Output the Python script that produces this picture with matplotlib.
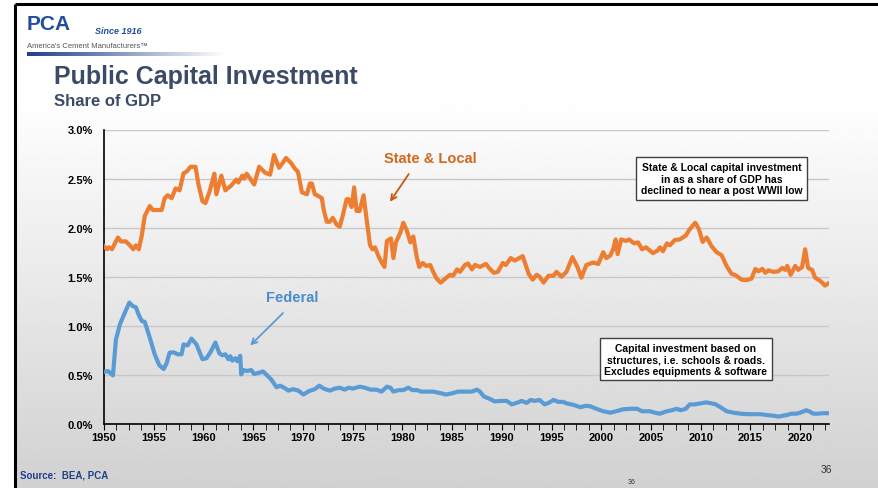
import numpy as np
import matplotlib
matplotlib.use("Agg")
import matplotlib.pyplot as plt
from matplotlib.patches import Rectangle
from matplotlib.ticker import MultipleLocator, FuncFormatter

plt.rcParams['font.family'] = ['Liberation Sans', 'DejaVu Sans']

# state & local capital investment, share of GDP (%)
sl_years = [1950.0, 1950.3, 1950.5, 1950.8, 1951.4, 1951.7, 1952.2, 1952.6, 1952.95, 1953.2,
            1953.5, 1953.8, 1954.1, 1954.6, 1954.9, 1955.8, 1956.1, 1956.4, 1956.8, 1957.2,
            1957.6, 1958.0, 1958.3, 1958.7, 1959.2, 1959.5, 1959.9, 1960.2, 1960.65, 1961.1,
            1961.3, 1961.8, 1962.2, 1962.8, 1963.3, 1963.5, 1963.9, 1964.1, 1964.35, 1965.1,
            1965.6, 1966.2, 1966.7, 1967.1, 1967.6, 1967.9, 1968.3, 1968.8, 1969.2, 1969.5,
            1969.9, 1970.4, 1970.7, 1970.9, 1971.2, 1971.6, 1971.9, 1972.1, 1972.4, 1972.7,
            1973.0, 1973.4, 1973.7, 1974.0, 1974.4, 1974.6, 1974.9, 1975.15, 1975.4, 1975.7,
            1976.1, 1976.4, 1976.75, 1977.0, 1977.25, 1977.6, 1977.9, 1978.2, 1978.45, 1978.85,
            1979.1, 1979.35, 1979.8, 1980.1, 1980.45, 1980.8, 1981.1, 1981.45, 1981.7, 1982.05,
            1982.4, 1982.8, 1983.1, 1983.45, 1983.85, 1984.3, 1984.8, 1985.1, 1985.5, 1985.8,
            1986.3, 1986.6, 1987.0, 1987.3, 1987.8, 1988.4, 1988.8, 1989.2, 1989.6, 1990.1,
            1990.4, 1990.9, 1991.3, 1992.1, 1992.7, 1993.1, 1993.5, 1993.8, 1994.2, 1994.7,
            1995.2, 1995.5, 1996.0, 1996.5, 1997.1, 1997.6, 1998.0, 1998.5, 1999.2, 1999.7,
            2000.2, 2000.5, 2000.9, 2001.2, 2001.45, 2001.65, 2002.0, 2002.5, 2002.8, 2003.3,
            2003.7, 2004.1, 2004.5, 2005.2, 2005.7, 2005.9, 2006.2, 2006.6, 2006.9, 2007.4,
            2007.9, 2008.5, 2008.9, 2009.45, 2009.8, 2010.2, 2010.6, 2011.1, 2011.6, 2012.1,
            2012.6, 2013.1, 2013.6, 2014.1, 2014.6, 2015.1, 2015.5, 2015.8, 2016.2, 2016.5,
            2016.8, 2017.3, 2017.8, 2018.2, 2018.5, 2018.7, 2019.05, 2019.5, 2019.8, 2020.2,
            2020.5, 2020.8, 2021.2, 2021.5, 2022.0, 2022.5, 2022.8]
sl_vals = [1.81, 1.78, 1.80, 1.78, 1.90, 1.86, 1.86, 1.82, 1.78, 1.82,
           1.78, 1.92, 2.12, 2.22, 2.18, 2.18, 2.30, 2.33, 2.30, 2.40,
           2.38, 2.555, 2.57, 2.62, 2.62, 2.44, 2.27, 2.25, 2.38, 2.55,
           2.34, 2.53, 2.38, 2.43, 2.49, 2.46, 2.53, 2.50, 2.55, 2.44,
           2.62, 2.56, 2.54, 2.74, 2.61, 2.65, 2.71, 2.66, 2.60, 2.57,
           2.36, 2.34, 2.45, 2.45, 2.34, 2.32, 2.30, 2.18, 2.06, 2.06,
           2.10, 2.03, 2.01, 2.12, 2.29, 2.29, 2.21, 2.41, 2.17, 2.17,
           2.33, 2.09, 1.82, 1.78, 1.80, 1.71, 1.65, 1.60, 1.865, 1.89,
           1.69, 1.85, 1.95, 2.05, 1.97, 1.85, 1.91, 1.70, 1.60, 1.64,
           1.61, 1.62, 1.55, 1.48, 1.44, 1.48, 1.52, 1.51, 1.575, 1.55,
           1.62, 1.635, 1.575, 1.62, 1.60, 1.63, 1.58, 1.54, 1.55, 1.64,
           1.62, 1.69, 1.665, 1.71, 1.53, 1.47, 1.52, 1.50, 1.44, 1.51,
           1.51, 1.55, 1.50, 1.55, 1.70, 1.60, 1.49, 1.62, 1.645, 1.63,
           1.75, 1.69, 1.715, 1.78, 1.88, 1.73, 1.88, 1.865, 1.88, 1.84,
           1.85, 1.78, 1.80, 1.74, 1.77, 1.80, 1.76, 1.84, 1.82, 1.875,
           1.88, 1.92, 1.985, 2.05, 1.99, 1.855, 1.90, 1.81, 1.75, 1.72,
           1.61, 1.53, 1.51, 1.47, 1.465, 1.48, 1.58, 1.555, 1.58, 1.54,
           1.565, 1.55, 1.555, 1.59, 1.57, 1.61, 1.52, 1.61, 1.57, 1.60,
           1.78, 1.59, 1.57, 1.49, 1.46, 1.41, 1.43]

# federal capital investment, share of GDP (%)
fed_years = [1950.0, 1950.4, 1950.9, 1951.2, 1951.6, 1952.1, 1952.55, 1952.9, 1953.2, 1953.5,
             1953.8, 1954.1, 1954.6, 1955.1, 1955.55, 1956.0, 1956.3, 1956.6, 1957.0, 1957.4,
             1957.8, 1958.0, 1958.4, 1958.8, 1959.3, 1959.9, 1960.3, 1960.7, 1961.2, 1961.6,
             1961.9, 1962.2, 1962.5, 1962.7, 1962.9, 1963.2, 1963.4, 1963.7, 1963.8, 1964.0,
             1964.4, 1964.8, 1965.1, 1965.5, 1966.0, 1966.3, 1966.8, 1967.35, 1967.7, 1968.1,
             1968.55, 1969.0, 1969.55, 1970.05, 1970.6, 1971.2, 1971.65, 1972.1, 1972.7, 1973.2,
             1973.7, 1974.2, 1974.6, 1975.0, 1975.7, 1976.2, 1976.8, 1977.4, 1977.9, 1978.45,
             1978.8, 1979.1, 1979.6, 1980.1, 1980.6, 1981.0, 1981.5, 1981.9, 1982.4, 1983.1,
             1983.8, 1984.4, 1985.1, 1985.6, 1986.3, 1987.0, 1987.5, 1987.8, 1988.2, 1988.7,
             1989.3, 1989.9, 1990.5, 1991.0, 1991.5, 1992.0, 1992.5, 1992.9, 1993.3, 1993.8,
             1994.3, 1994.7, 1995.2, 1995.7, 1996.2, 1996.5, 1997.0, 1997.5, 1997.9, 1998.4,
             1998.9, 1999.5, 2000.2, 2000.9, 2001.5, 2002.2, 2002.9, 2003.6, 2004.1, 2004.9,
             2005.4, 2005.9, 2006.6, 2007.1, 2007.6, 2008.0, 2008.5, 2008.9, 2009.4, 2010.0,
             2010.55, 2011.1, 2011.5, 2012.0, 2012.6, 2013.3, 2014.0, 2014.7, 2015.3, 2016.0,
             2016.7, 2017.3, 2017.8, 2018.3, 2018.8, 2019.1, 2019.6, 2020.0, 2020.6, 2021.0,
             2021.3, 2021.8, 2022.3, 2022.9]
fed_vals = [0.53, 0.54, 0.495, 0.86, 1.015, 1.135, 1.237, 1.20, 1.19, 1.11,
            1.05, 1.04, 0.88, 0.71, 0.60, 0.56, 0.62, 0.727, 0.73, 0.71,
            0.71, 0.81, 0.80, 0.87, 0.81, 0.66, 0.67, 0.73, 0.83, 0.72,
            0.70, 0.71, 0.66, 0.69, 0.645, 0.67, 0.64, 0.695, 0.505, 0.55,
            0.54, 0.55, 0.51, 0.52, 0.535, 0.505, 0.455, 0.375, 0.39, 0.37,
            0.34, 0.355, 0.34, 0.30, 0.335, 0.355, 0.39, 0.36, 0.34, 0.36,
            0.37, 0.35, 0.37, 0.36, 0.38, 0.37, 0.35, 0.35, 0.33, 0.38,
            0.37, 0.33, 0.345, 0.345, 0.37, 0.345, 0.345, 0.33, 0.33, 0.33,
            0.315, 0.30, 0.315, 0.33, 0.33, 0.33, 0.35, 0.33, 0.28, 0.26,
            0.23, 0.235, 0.235, 0.20, 0.215, 0.235, 0.215, 0.245, 0.235, 0.245,
            0.20, 0.215, 0.245, 0.225, 0.225, 0.21, 0.20, 0.185, 0.17, 0.185,
            0.18, 0.155, 0.13, 0.115, 0.13, 0.15, 0.155, 0.155, 0.13, 0.13,
            0.115, 0.105, 0.13, 0.14, 0.155, 0.14, 0.155, 0.20, 0.20, 0.21,
            0.22, 0.21, 0.20, 0.17, 0.13, 0.115, 0.105, 0.10, 0.10, 0.10,
            0.09, 0.085, 0.075, 0.085, 0.095, 0.105, 0.105, 0.115, 0.14, 0.125,
            0.105, 0.105, 0.11, 0.11]

x_ticks = list(range(1950, 2021, 5))
y_ticks = [0.0, 0.5, 1.0, 1.5, 2.0, 2.5, 3.0]

W, H = 879, 489
fig = plt.figure(figsize=(W / 100, H / 100), dpi=100)


def px(x, y):
    return x / W, 1 - y / H


# slide background: white fading into light gray (pixel coordinates, y down)
bg = fig.add_axes([0, 0, 1, 1], zorder=-10)
grad = np.linspace(0, 1, 256)[:, None]
grad = np.clip((grad - 0.2) / 0.8, 0, 1)
bg.imshow(1 - 0.18 * grad, cmap='gray', vmin=0, vmax=1, aspect='auto', extent=[0, W, H, 0])
bg.add_patch(Rectangle((0, 0), 15, H, color='white'))
bg.plot([15.5, 15.5], [5, H], color='black', lw=2.2, solid_capstyle='butt')
bg.plot([15.5, W], [5, 5], color='black', lw=2.2, solid_capstyle='butt')
# gradient bar under the logo
bar = np.linspace(0, 1, 256)[None, :]
bar_cmap = matplotlib.colors.LinearSegmentedColormap.from_list('b', ['#1f3f8a', '#ffffff'])
bg.imshow(bar, cmap=bar_cmap, aspect='auto', extent=[27, 225, 57, 53], zorder=2)
bg.set_xlim(0, W)
bg.set_ylim(H, 0)
bg.axis('off')

# logo and titles
fig.text(*px(27, 24), 'PCA', fontsize=15, fontweight='bold', color='#1f4e9c', va='center', ha='left')
fig.text(*px(95, 32), 'Since 1916', fontsize=6.5, style='italic', color='#1f4e9c', va='center', fontweight='bold')
fig.text(*px(27, 46), "America's Cement Manufacturers\u2122", fontsize=5.5, color='#555555', va='center')
fig.text(*px(54, 77), 'Public Capital Investment', fontsize=18, fontweight='bold', color='#3b4a66', va='center')
fig.text(*px(54, 101), 'Share of GDP', fontsize=12, fontweight='bold', color='#3b4a66', va='center')
fig.text(*px(20, 476), 'Source:  BEA, PCA', fontsize=7, fontweight='bold', color='#1f3f8a', va='center')
fig.text(*px(632, 483), '36', fontsize=5, color='#333333', va='center', ha='center')
fig.text(*px(826, 470), '36', fontsize=7.5, color='#333333', va='center', ha='center')

# chart
ax = fig.add_axes([104 / W, 1 - 425 / H, 725 / W, 294.5 / H])
ax.set_facecolor('none')
ax.plot(sl_years, sl_vals, color='#ED7D31', lw=3, solid_joinstyle='round', zorder=3)
ax.plot(fed_years, fed_vals, color='#5B9BD5', lw=3, solid_joinstyle='round', zorder=3)
ax.set_xlim(1950, 2022.9)
ax.set_ylim(0, 3.0)
ax.set_yticks(y_ticks)
ax.yaxis.set_major_formatter(FuncFormatter(lambda v, p: f'{v:.1f}%'))
ax.set_xticks(x_ticks)
ax.xaxis.set_minor_locator(MultipleLocator(1.25))
ax.grid(axis='y', color='#c8c8c8', lw=1)
ax.set_axisbelow(True)
for s in ['top', 'right']:
    ax.spines[s].set_visible(False)
ax.spines['left'].set_linewidth(1.2)
ax.spines['bottom'].set_linewidth(1.2)
ax.tick_params(axis='y', length=0, pad=8, labelsize=8)
ax.tick_params(axis='x', which='major', length=4, labelsize=8, pad=2)
ax.tick_params(axis='x', which='minor', length=4)
for lab in ax.get_xticklabels() + ax.get_yticklabels():
    lab.set_fontweight('bold')

# annotations
ax.annotate('', xy=(1978.6, 2.24), xytext=(1980.8, 2.57),
            arrowprops=dict(arrowstyle='->', color='#c55a11', lw=1.3))
ax.text(1982.8, 2.71, 'State & Local', color='#d0691f', fontsize=10.5, fontweight='bold', ha='center', va='center')
ax.annotate('', xy=(1964.5, 0.78), xytext=(1968.2, 1.15),
            arrowprops=dict(arrowstyle='->', color='#5B9BD5', lw=1.3))
ax.text(1968.9, 1.29, 'Federal', color='#4a8ccc', fontsize=10.5, fontweight='bold', ha='center', va='center')
ax.text(2012.1, 2.50, 'State & Local capital investment\nin as a share of GDP has\ndeclined to near a post WWII low',
        fontsize=7.5, fontweight='bold', ha='center', va='center', linespacing=1.2,
        bbox=dict(boxstyle='square,pad=0.45', fc='white', ec='#404040', lw=1))
ax.text(2008.5, 0.66, 'Capital investment based on\nstructures, i.e. schools & roads.\nExcludes equipments & software',
        fontsize=7.5, fontweight='bold', ha='center', va='center', linespacing=1.2,
        bbox=dict(boxstyle='square,pad=0.45', fc='white', ec='#404040', lw=1))

fig.savefig('out.png', dpi=100)
